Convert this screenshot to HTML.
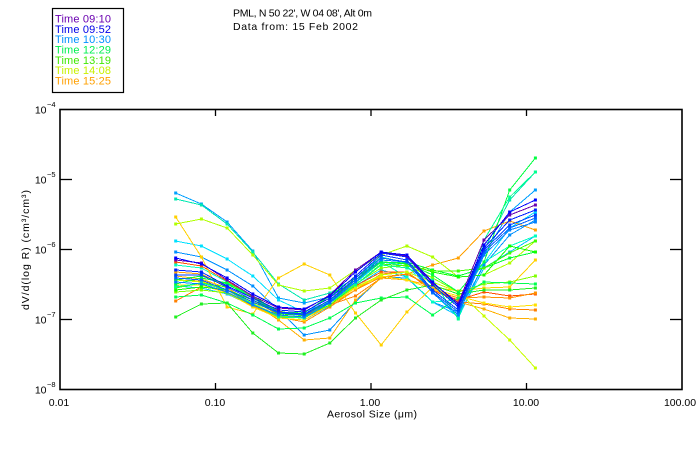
<!DOCTYPE html>
<html><head><meta charset="utf-8"><style>
html,body{margin:0;padding:0;background:#fff;}
svg{display:block;font-family:"Liberation Sans",sans-serif;}
</style></head><body>
<svg width="700" height="450" viewBox="0 0 700 450" xmlns="http://www.w3.org/2000/svg">
<defs>
<marker id="m" markerWidth="4" markerHeight="4" refX="2" refY="2" markerUnits="userSpaceOnUse"><rect x="0.5" y="0.5" width="3" height="3" fill="context-stroke"/></marker>
</defs>
<rect width="700" height="450" fill="#fff"/>
<!-- legend -->
<rect x="52.5" y="8.5" width="71" height="84" fill="none" stroke="#000" stroke-width="1.2"/>
<g font-size="11">
<text x="55" y="22.5" fill="#6a00b0" textLength="56">Time 09:10</text>
<text x="55" y="32.8" fill="#0000e8" textLength="56">Time 09:52</text>
<text x="55" y="43.1" fill="#0090ff" textLength="56">Time 10:30</text>
<text x="55" y="53.5" fill="#00f050" textLength="56">Time 12:29</text>
<text x="55" y="63.8" fill="#40e800" textLength="56">Time 13:19</text>
<text x="55" y="74.1" fill="#c8f000" textLength="56">Time 14:08</text>
<text x="55" y="84.5" fill="#ffa000" textLength="56">Time 15:25</text>
</g>
<!-- title -->
<text x="233" y="16.5" font-size="10.5" textLength="139">PML, N 50 22', W 04 08', Alt 0m</text>
<text x="233" y="30" font-size="10.5" textLength="125">Data from: 15 Feb 2002</text>

<!-- series -->
<g fill="none" stroke-width="1" stroke-linejoin="round" shape-rendering="crispEdges" marker-start="url(#m)" marker-mid="url(#m)" marker-end="url(#m)">
<polyline stroke="#00a0ff" points="175.7,193 201.4,204 227.1,222 252.8,251 278.5,298 304.2,303 329.8,297 355.5,280 381.2,258 406.9,262 432.6,290 458.3,310 484,255 509.7,212 535.4,190"/>
<polyline stroke="#00e8b0" points="175.7,199 201.4,205 227.1,224 252.8,252 278.5,284 304.2,300 329.8,293 355.5,278 381.2,257 406.9,263 432.6,285 458.3,305 484,250 509.7,200 535.4,172"/>
<polyline stroke="#00e0ff" points="175.7,241 201.4,246 227.1,259 252.8,276 278.5,300 304.2,312 329.8,301 355.5,283 381.2,262 406.9,266 432.6,292 458.3,318 484,263 509.7,228 535.4,212"/>
<polyline stroke="#0090ff" points="175.7,252 201.4,257 227.1,270 252.8,286 278.5,310 304.2,335 329.8,330 355.5,302 381.2,277 406.9,278 432.6,302 458.3,312 484,265 509.7,235 535.4,220"/>
<polyline stroke="#00c0ff" points="175.7,286 201.4,288 227.1,294 252.8,306 278.5,318 304.2,320 329.8,306 355.5,286 381.2,270 406.9,277 432.6,302 458.3,316 484,268 509.7,252 535.4,236"/>
<polyline stroke="#00ffc0" points="175.7,265 201.4,268 227.1,282 252.8,298 278.5,313 304.2,316 329.8,300 355.5,282 381.2,262 406.9,277 432.6,302 458.3,300 484,262 509.7,246 535.4,236"/>
<polyline stroke="#ff5000" points="175.7,262 201.4,266 227.1,281 252.8,297 278.5,311 304.2,316 329.8,302 355.5,286 381.2,272 406.9,272 432.6,291 458.3,300 484,292 509.7,296 535.4,294"/>
<polyline stroke="#ffa000" points="175.7,272 201.4,274 227.1,287 252.8,300 278.5,315 304.2,318 329.8,305 355.5,290 381.2,277 406.9,274 432.6,265 458.3,258 484,231 509.7,221 535.4,230"/>
<polyline stroke="#ff8000" points="175.7,301 201.4,287 227.1,290 252.8,305 278.5,318 304.2,320 329.8,305 355.5,296 381.2,278 406.9,274 432.6,287 458.3,302 484,304 509.7,309 535.4,310"/>
<polyline stroke="#ff9000" points="175.7,280 201.4,281 227.1,292 252.8,306 278.5,317 304.2,322 329.8,307 355.5,290 381.2,274 406.9,272 432.6,290 458.3,298 484,297 509.7,298 535.4,293"/>
<polyline stroke="#ffb000" points="175.7,276 201.4,279 227.1,288 252.8,303 278.5,320 304.2,340 329.8,338 355.5,300 381.2,278 406.9,280 432.6,286 458.3,302 484,309 509.7,318 535.4,319"/>
<polyline stroke="#ffe000" points="175.7,285 201.4,285 227.1,293 252.8,307 278.5,318 304.2,320 329.8,305 355.5,288 381.2,276 406.9,280 432.6,289 458.3,296 484,303 509.7,307 535.4,305"/>
<polyline stroke="#ffd000" points="175.7,217 201.4,257 227.1,307 252.8,314 278.5,278 304.2,264 329.8,275 355.5,313 381.2,345 406.9,312 432.6,287 458.3,291 484,288 509.7,287 535.4,260"/>
<polyline stroke="#b0ff00" points="175.7,224 201.4,219 227.1,228 252.8,255 278.5,285 304.2,291 329.8,288 355.5,270 381.2,255 406.9,246 432.6,257 458.3,277 484,275 509.7,263 535.4,241"/>
<polyline stroke="#c8ff00" points="175.7,280 201.4,282 227.1,290 252.8,303 278.5,316 304.2,318 329.8,303 355.5,287 381.2,275 406.9,272 432.6,282 458.3,292 484,316 509.7,340 535.4,368"/>
<polyline stroke="#80ff00" points="175.7,292 201.4,290 227.1,293 252.8,305 278.5,316 304.2,317 329.8,302 355.5,284 381.2,268 406.9,265 432.6,278 458.3,292 484,284 509.7,282 535.4,276"/>
<polyline stroke="#00ff50" points="175.7,297 201.4,295 227.1,303 252.8,315 278.5,329 304.2,328 329.8,318 355.5,303 381.2,298 406.9,297 432.6,315 458.3,298 484,282 509.7,283 535.4,284"/>
<polyline stroke="#20f020" points="175.7,317 201.4,304 227.1,303 252.8,333 278.5,353 304.2,354 329.8,343 355.5,318 381.2,300 406.9,290 432.6,285 458.3,294 484,290 509.7,290 535.4,288"/>
<polyline stroke="#00ff30" points="175.7,280 201.4,276 227.1,284 252.8,298 278.5,312 304.2,314 329.8,300 355.5,280 381.2,260 406.9,262 432.6,270 458.3,276 484,268 509.7,258 535.4,252"/>
<polyline stroke="#10ff00" points="175.7,290 201.4,287 227.1,290 252.8,300 278.5,314 304.2,315 329.8,300 355.5,280 381.2,262 406.9,264 432.6,272 458.3,277 484,275 509.7,246 535.4,252"/>
<polyline stroke="#40ff00" points="175.7,288 201.4,283 227.1,287 252.8,300 278.5,312 304.2,316 329.8,305 355.5,285 381.2,264 406.9,266 432.6,271 458.3,271 484,268 509.7,253 535.4,241"/>
<polyline stroke="#00ff40" points="175.7,284 201.4,278 227.1,283 252.8,296 278.5,312 304.2,313 329.8,296 355.5,277 381.2,262 406.9,263 432.6,275 458.3,292 484,262 509.7,190 535.4,158"/>
<polyline stroke="#00ff90" points="175.7,287 201.4,283 227.1,290 252.8,304 278.5,317 304.2,318 329.8,303 355.5,285 381.2,265 406.9,268 432.6,280 458.3,319 484,240 509.7,197 535.4,172"/>
<polyline stroke="#0080ff" points="175.7,282 201.4,284 227.1,292 252.8,305 278.5,315 304.2,317 329.8,303 355.5,282 381.2,260 406.9,262 432.6,293 458.3,315 484,255 509.7,230 535.4,222"/>
<polyline stroke="#0060ff" points="175.7,278 201.4,280 227.1,290 252.8,302 278.5,313 304.2,315 329.8,302 355.5,280 381.2,258 406.9,262 432.6,292 458.3,312 484,252 509.7,228 535.4,218"/>
<polyline stroke="#0040ff" points="175.7,275 201.4,275 227.1,287 252.8,300 278.5,312 304.2,314 329.8,300 355.5,278 381.2,255 406.9,260 432.6,290 458.3,310 484,250 509.7,225 535.4,215"/>
<polyline stroke="#0020ff" points="175.7,270 201.4,272 227.1,286 252.8,298 278.5,310 304.2,312 329.8,298 355.5,276 381.2,253 406.9,257 432.6,285 458.3,307 484,248 509.7,220 535.4,210"/>
<polyline stroke="#6a00b0" points="175.7,260 201.4,263 227.1,280 252.8,296 278.5,308 304.2,310 329.8,295 355.5,270 381.2,252 406.9,256 432.6,283 458.3,303 484,240 509.7,215 535.4,205"/>
<polyline stroke="#0000ff" points="175.7,258 201.4,264 227.1,278 252.8,294 278.5,307 304.2,309 329.8,296 355.5,272 381.2,252 406.9,255 432.6,282 458.3,305 484,245 509.7,212 535.4,200"/>
</g>

<!-- axes -->
<rect x="60" y="109.5" width="622" height="280" fill="none" stroke="#000" stroke-width="1.6"/>
<g stroke="#000" stroke-width="1.3">
<line x1="60" y1="179.5" x2="72" y2="179.5"/>
<line x1="60" y1="249.5" x2="72" y2="249.5"/>
<line x1="60" y1="319.5" x2="72" y2="319.5"/>
<line x1="670" y1="179.5" x2="682" y2="179.5"/>
<line x1="670" y1="249.5" x2="682" y2="249.5"/>
<line x1="670" y1="319.5" x2="682" y2="319.5"/>
<line x1="215.5" y1="109.5" x2="215.5" y2="116"/>
<line x1="371" y1="109.5" x2="371" y2="116"/>
<line x1="526.5" y1="109.5" x2="526.5" y2="116"/>
<line x1="215.5" y1="389.5" x2="215.5" y2="383"/>
<line x1="371" y1="389.5" x2="371" y2="383"/>
<line x1="526.5" y1="389.5" x2="526.5" y2="383"/>
</g>
<!-- y tick labels -->
<g font-size="10.5">
<text x="46.5" y="113.5" text-anchor="end">10</text><text x="47" y="107" font-size="7.5">−4</text>
<text x="46.5" y="183.5" text-anchor="end">10</text><text x="47" y="177" font-size="7.5">−5</text>
<text x="46.5" y="253.5" text-anchor="end">10</text><text x="47" y="247" font-size="7.5">−6</text>
<text x="46.5" y="323.5" text-anchor="end">10</text><text x="47" y="317" font-size="7.5">−7</text>
<text x="46.5" y="393.5" text-anchor="end">10</text><text x="47" y="387" font-size="7.5">−8</text>
</g>
<!-- x tick labels -->
<g font-size="10.5" text-anchor="middle">
<text x="59" y="406">0.01</text>
<text x="215" y="406">0.10</text>
<text x="370" y="406">1.00</text>
<text x="526" y="406">10.00</text>
<text x="680" y="406">100.00</text>
</g>
<text x="372" y="417.5" font-size="10.5" text-anchor="middle" textLength="90">Aerosol Size (μm)</text>
<text transform="translate(29,250) rotate(-90)" font-size="10.5" text-anchor="middle" textLength="120">dV/d(log R) (cm³/cm³)</text>
</svg>
</body></html>
